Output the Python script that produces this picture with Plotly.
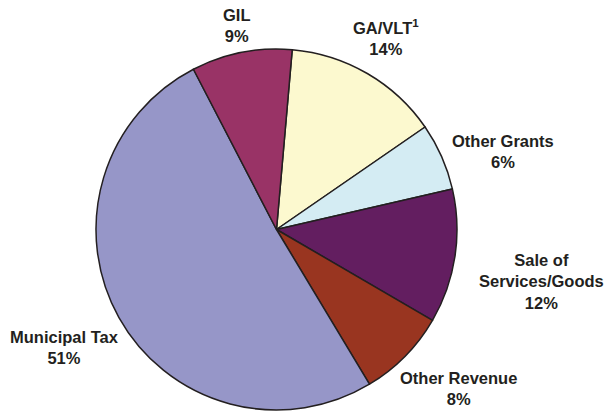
import plotly.graph_objects as go

# Data (clockwise from just right of 12 o'clock)
labels = ["GA/VLT<sup>1</sup>", "Other Grants", "Sale of<br>Services/Goods", "Other Revenue", "Municipal Tax", "GIL"]
values = [14, 6, 12, 8, 51, 9]
colors = ["#FCF9CF", "#D4ECF3", "#631E60", "#993520", "#9696C8", "#993366"]

# label anchor positions in pixels (layout only)
label_pos = [(386, 37), (503, 151), (541, 281), (458, 388), (64, 347), (237, 26)]

W, H = 608, 413

fig = go.Figure(go.Pie(
    labels=labels,
    values=values,
    sort=False,
    direction="clockwise",
    rotation=5,
    marker=dict(colors=colors, line=dict(color="#231F20", width=1.5)),
    textinfo="none",
    hoverinfo="label+percent",
    showlegend=False,
    domain=dict(x=[96 / W, 457 / W], y=[1 - 410 / H, 1 - 49 / H]),
))

total = sum(values)
for lab, v, (px, py) in zip(labels, values, label_pos):
    fig.add_annotation(
        x=px / W, y=1 - py / H, xref="paper", yref="paper",
        text=f"{lab}<br>{round(100 * v / total)}%",
        showarrow=False, xanchor="center", yanchor="middle", align="center",
        font=dict(family="Liberation Sans, Arial, sans-serif", size=16.5, color="#231F20", weight="bold"),
    )

fig.update_layout(
    width=W, height=H,
    margin=dict(l=0, r=0, t=0, b=0),
    paper_bgcolor="white",
    plot_bgcolor="white",
)

fig.write_html(
    "out.html",
    config={"displayModeBar": False},
    post_script="document.body.style.margin='0';document.body.style.overflow='hidden';",
)
